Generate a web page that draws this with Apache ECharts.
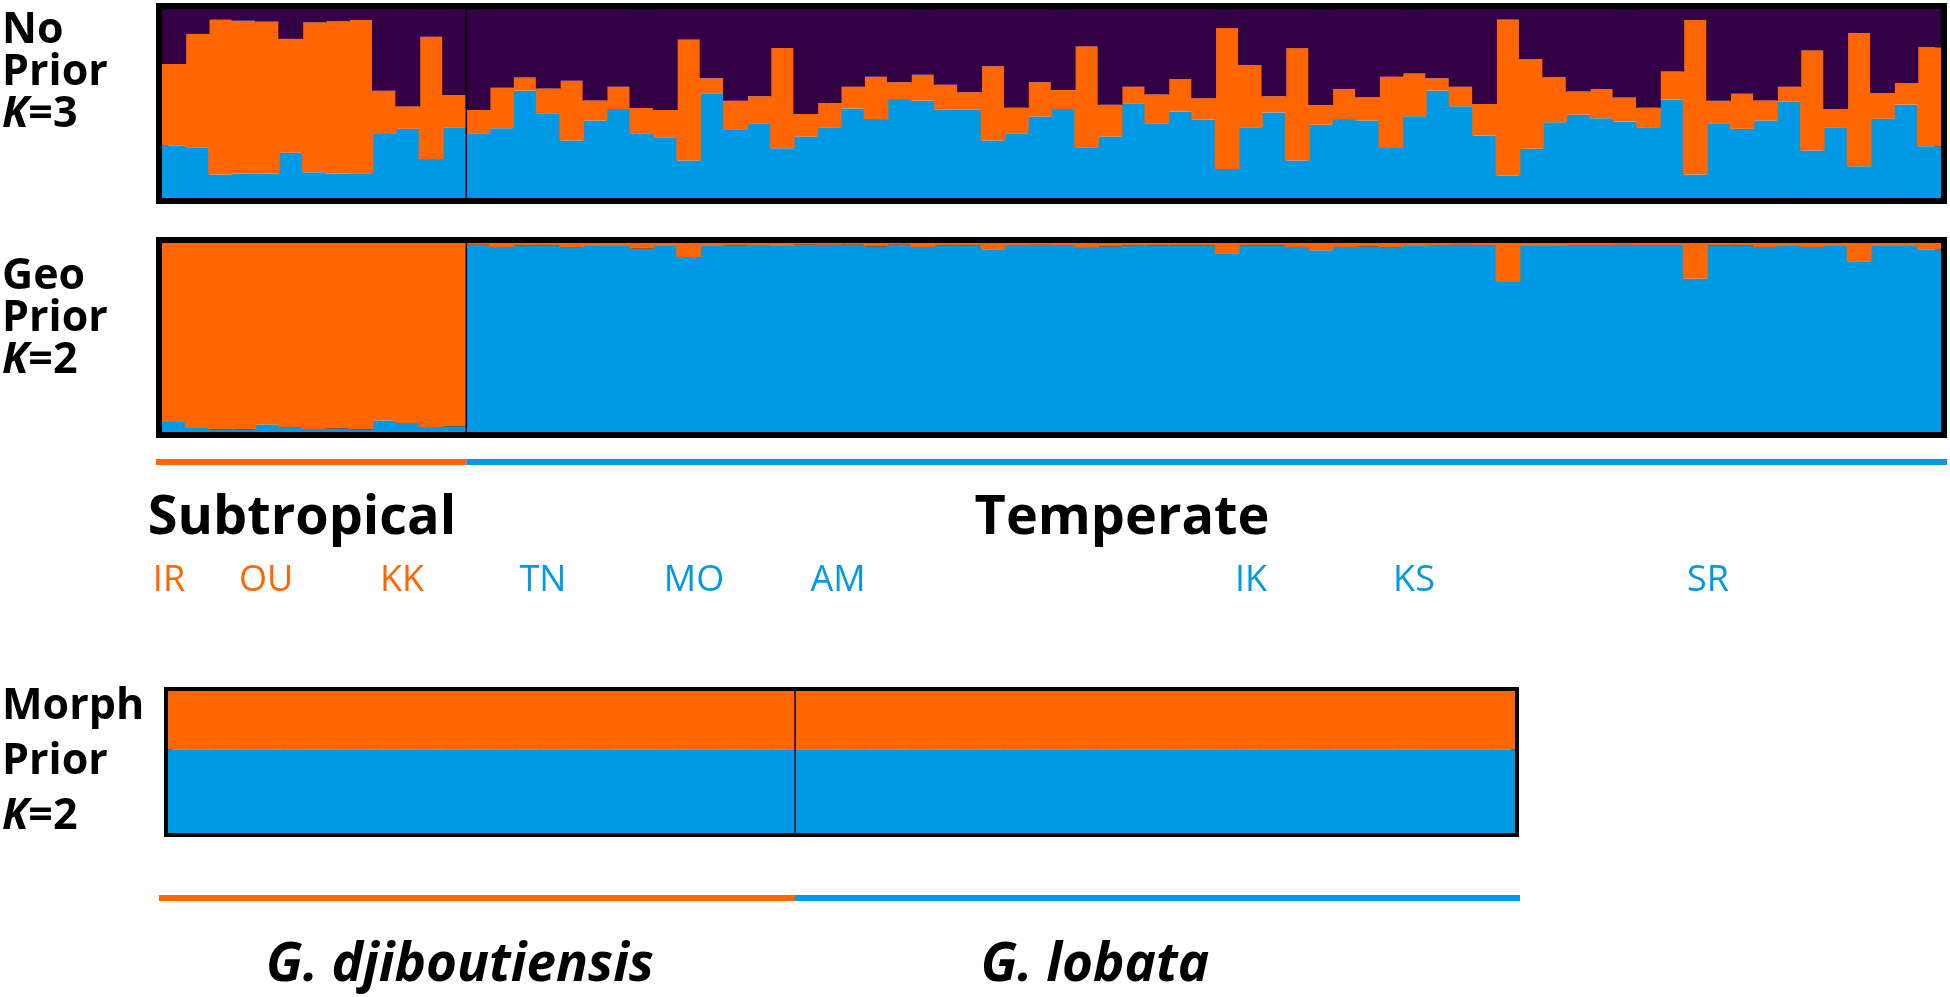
<!DOCTYPE html>
<html><head><meta charset="utf-8">
<script src="https://cdn.jsdelivr.net/npm/echarts@6/dist/echarts.min.js"></script>
<style>html,body{margin:0;padding:0;background:#fff}#c{width:1950px;height:997px}</style>
</head><body><div id="c"></div>
<script>
// ---------- DATA ----------
const nSubtropical = 13;   // individuals IR, OU, KK
const nTemperate = 63;     // individuals TN ... SR
const individuals = Array.from({length: nSubtropical + nTemperate}, (_, i) => 'ind' + (i + 1));

// No prior, K=3 (cluster proportions per individual)
const noPriorBlue = [0.277,0.269,0.124,0.128,0.128,0.239,0.136,0.128,0.131,0.339,0.366,0.207,0.371,
  0.339,0.369,0.568,0.448,0.304,0.410,0.471,0.339,0.321,0.198,0.554,0.360,0.392,0.263,0.325,0.374,0.474,
  0.418,0.524,0.515,0.468,0.468,0.304,0.343,0.431,0.471,0.268,0.325,0.498,0.392,0.457,0.415,0.154,0.374,
  0.453,0.198,0.388,0.418,0.410,0.265,0.432,0.568,0.485,0.330,0.119,0.260,0.401,0.441,0.422,0.404,0.374,
  0.521,0.124,0.395,0.366,0.410,0.510,0.251,0.371,0.168,0.419,0.494,0.274];
const noPriorOrange = [0.432,0.599,0.819,0.810,0.805,0.603,0.793,0.807,0.811,0.229,0.118,0.646,0.174,
  0.127,0.214,0.070,0.132,0.317,0.106,0.118,0.137,0.145,0.640,0.079,0.155,0.146,0.531,0.120,0.129,0.115,
  0.224,0.088,0.137,0.131,0.091,0.393,0.134,0.181,0.100,0.534,0.169,0.091,0.155,0.173,0.113,0.745,0.330,
  0.085,0.594,0.104,0.159,0.123,0.377,0.227,0.065,0.104,0.168,0.825,0.476,0.238,0.122,0.155,0.128,0.103,
  0.148,0.818,0.120,0.185,0.106,0.079,0.529,0.100,0.705,0.137,0.115,0.523];
const noPriorPurple = [0.291,0.132,0.057,0.062,0.067,0.159,0.071,0.066,0.058,0.432,0.516,0.146,0.455,
  0.534,0.418,0.362,0.420,0.379,0.485,0.411,0.523,0.534,0.162,0.367,0.485,0.462,0.206,0.555,0.497,0.411,
  0.358,0.388,0.347,0.402,0.441,0.303,0.523,0.388,0.428,0.198,0.506,0.411,0.453,0.370,0.473,0.100,0.296,
  0.462,0.208,0.507,0.423,0.467,0.358,0.340,0.367,0.411,0.502,0.057,0.264,0.362,0.437,0.423,0.467,0.523,
  0.331,0.058,0.485,0.449,0.485,0.411,0.220,0.529,0.127,0.444,0.391,0.203];

// Geo prior, K=2
const geoBlue = [0.053,0.021,0.013,0.013,0.040,0.023,0.016,0.018,0.013,0.061,0.048,0.027,0.030,
  0.991,0.979,0.988,0.988,0.975,0.984,0.984,0.970,0.984,0.926,0.984,0.986,0.985,0.984,0.991,0.990,0.991,
  0.982,0.991,0.979,0.988,0.988,0.967,0.989,0.990,0.989,0.974,0.982,0.988,0.987,0.988,0.988,0.942,0.988,
  0.988,0.979,0.961,0.979,0.982,0.975,0.984,0.989,0.990,0.989,0.794,0.984,0.984,0.989,0.989,0.990,0.989,
  0.989,0.811,0.986,0.986,0.979,0.984,0.979,0.984,0.900,0.984,0.984,0.965];
const geoOrange = [0.947,0.979,0.987,0.987,0.960,0.977,0.984,0.982,0.987,0.939,0.952,0.973,0.970,
  0.009,0.021,0.012,0.012,0.025,0.016,0.016,0.030,0.016,0.074,0.016,0.014,0.015,0.016,0.009,0.010,0.009,
  0.018,0.009,0.021,0.012,0.012,0.033,0.011,0.010,0.011,0.026,0.018,0.012,0.013,0.012,0.012,0.058,0.012,
  0.012,0.021,0.039,0.021,0.018,0.025,0.016,0.011,0.010,0.011,0.206,0.016,0.016,0.011,0.011,0.010,0.011,
  0.011,0.189,0.014,0.014,0.021,0.016,0.021,0.016,0.100,0.016,0.016,0.035];

// Morph prior, K=2 (G. djiboutiensis | G. lobata)
const nDjibouti = 27;
const nLobata = 31;
const morphIndividuals = Array.from({length: nDjibouti + nLobata}, (_, i) => 'm' + (i + 1));
const morphBlue = [0.59,0.59,0.59,0.59,0.59,0.59,0.59,0.59,0.59,0.59,0.59,0.59,0.59,0.59,0.59,0.59,0.59,
  0.59,0.59,0.59,0.59,0.59,0.59,0.59,0.59,0.59,0.59,
  0.59,0.59,0.59,0.59,0.59,0.59,0.59,0.59,0.59,0.59,0.59,0.59,0.59,0.59,0.59,0.59,0.59,0.59,0.59,0.59,
  0.59,0.59,0.59,0.59,0.59,0.59,0.59,0.59,0.59,0.59,0.59];
const morphOrange = [0.41,0.41,0.41,0.41,0.41,0.41,0.41,0.41,0.41,0.41,0.41,0.41,0.41,0.41,0.41,0.41,0.41,
  0.41,0.41,0.41,0.41,0.41,0.41,0.41,0.41,0.41,0.41,
  0.41,0.41,0.41,0.41,0.41,0.41,0.41,0.41,0.41,0.41,0.41,0.41,0.41,0.41,0.41,0.41,0.41,0.41,0.41,0.41,
  0.41,0.41,0.41,0.41,0.41,0.41,0.41,0.41,0.41,0.41,0.41];

// Labels
const panelLabels = [['No','Prior','K=3'], ['Geo','Prior','K=2'], ['Morph','Prior','K=2']];
const regionLabels = ['Subtropical', 'Temperate'];
const siteLabels = ['IR','OU','KK','TN','MO','AM','IK','KS','SR'];
const speciesLabels = ['G. djiboutiensis', 'G. lobata'];

// ---------- STYLE ----------
const PURPLE = '#330046', ORANGE = '#FF6600', BLUE = '#0099E5';
const FONT = '"Open Sans", Lato, sans-serif';

const chart = echarts.init(document.getElementById('c'), null, {renderer: 'canvas'});
const nAll = nSubtropical + nTemperate;
const nMorph = nDjibouti + nLobata;

const grids = [
  {left: 162, top: 9, width: 1779, height: 189},
  {left: 162, top: 243, width: 1779, height: 189},
  {left: 168, top: 691, width: 1347, height: 142}
];
const borderW = [12, 12, 8];

const xAxes = [], yAxes = [];
grids.forEach((g, gi) => {
  const cats = gi < 2 ? individuals : morphIndividuals;
  const n = gi < 2 ? nAll : nMorph;
  xAxes.push({type: 'category', gridIndex: gi, data: cats, show: false, boundaryGap: true});
  xAxes.push({type: 'value', gridIndex: gi, min: 0, max: n, show: false});
  yAxes.push({type: 'value', gridIndex: gi, min: 0, max: 1, show: false});
});

function bar(gi, name, data, color) {
  return {type: 'bar', name, xAxisIndex: gi * 2, yAxisIndex: gi, stack: 's' + gi, data,
    barWidth: '106%', itemStyle: {color}, silent: true, clip: true};
}
function divider(gi, at) {
  return {type: 'line', xAxisIndex: gi * 2 + 1, yAxisIndex: gi, data: [[at, 0], [at, 1]],
    symbol: 'none', lineStyle: {color: '#000', width: 1.5}, z: 10, silent: true};
}

const series = [
  bar(0, 'blue', noPriorBlue, BLUE), bar(0, 'orange', noPriorOrange, ORANGE), bar(0, 'purple', noPriorPurple, PURPLE),
  bar(1, 'blue', geoBlue, BLUE), bar(1, 'orange', geoOrange, ORANGE),
  bar(2, 'blue', morphBlue, BLUE), bar(2, 'orange', morphOrange, ORANGE),
  divider(0, nSubtropical), divider(1, nSubtropical), divider(2, nDjibouti)
];

chart.setOption({
  animation: false,
  backgroundColor: '#fff',
  grid: grids.map((g, i) => Object.assign({show: true, borderColor: '#000', borderWidth: borderW[i], backgroundColor: 'transparent', z: 0}, g)),
  xAxis: xAxes, yAxis: yAxes, series
});

// ---------- annotations ----------
const px = (axisIdx, v) => chart.convertToPixel({xAxisIndex: axisIdx}, v);
const g = [];
// group colour bars
const s0 = px(1, 0) - 6, sMid = px(1, nSubtropical), sEnd = px(1, nAll) + 6;
g.push({type: 'rect', shape: {x: s0, y: 459, width: sMid - s0, height: 6}, style: {fill: ORANGE}});
g.push({type: 'rect', shape: {x: sMid, y: 459, width: sEnd - sMid, height: 6}, style: {fill: BLUE}});
const m0 = px(5, 0) - 9, mMid = px(5, nDjibouti), mEnd = px(5, nMorph) + 5;
g.push({type: 'rect', shape: {x: m0, y: 895, width: mMid - m0, height: 6}, style: {fill: ORANGE}});
g.push({type: 'rect', shape: {x: mMid, y: 895, width: mEnd - mMid, height: 6}, style: {fill: BLUE}});

// panel labels
const labelY = [[31, 73, 115], [277, 319, 361], [707, 762, 817]];
panelLabels.forEach((lines, pi) => {
  lines.forEach((t, li) => {
    const isK = t.startsWith('K=');
    g.push({type: 'text', x: 2, y: labelY[pi][li], style: {
      text: isK ? '{i|K}{b|' + t.slice(1) + '}' : t,
      font: 'bold 43px ' + FONT, fill: '#000', textAlign: 'left', textVerticalAlign: 'middle',
      rich: {i: {fontStyle: 'italic', fontWeight: 'bold', fontSize: 43, fontFamily: FONT},
             b: {fontWeight: 'bold', fontSize: 43, fontFamily: FONT}}
    }});
  });
});

// region labels
const regionX = [302, 1122];
regionLabels.forEach((t, i) => g.push({type: 'text', x: regionX[i], y: 519, style: {
  text: t, font: 'bold 54px ' + FONT, fill: '#000', textAlign: 'center', textVerticalAlign: 'middle'}}));

// site labels
const siteX = [169, 266, 402, 543, 694, 838, 1251, 1414, 1708];
const siteCol = [ORANGE, ORANGE, ORANGE, BLUE, BLUE, BLUE, BLUE, BLUE, BLUE];
siteLabels.forEach((t, i) => g.push({type: 'text', x: siteX[i], y: 581, style: {
  text: t, font: '36px ' + FONT, fill: siteCol[i], textAlign: 'center', textVerticalAlign: 'middle'}}));

// species labels
const specX = [460, 1095];
speciesLabels.forEach((t, i) => g.push({type: 'text', x: specX[i], y: 966, style: {
  text: t, font: 'italic bold 53px ' + FONT, fill: '#000', textAlign: 'center', textVerticalAlign: 'middle'}}));

chart.setOption({graphic: g});
</script></body></html>
